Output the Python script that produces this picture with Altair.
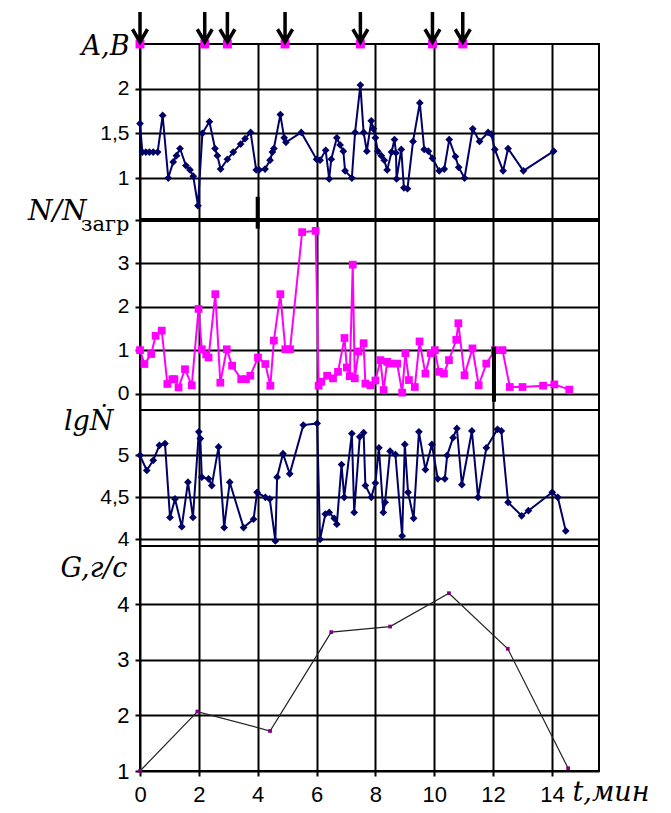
import altair as alt
import pandas as pd

# ---------------- data ----------------
# time axis, minutes
x_ticks = [0, 2, 4, 6, 8, 10, 12, 14]
x_max = 15.6

# panel 1: A,B
ab_t = [0.0, 0.08, 0.2, 0.32, 0.45, 0.6, 0.77, 0.96, 1.13, 1.24, 1.36, 1.56, 1.70, 1.81, 1.97,
        2.12, 2.36, 2.55, 2.63, 2.74, 2.97, 3.17, 3.42, 3.57, 3.76, 3.95, 4.05, 4.25, 4.42, 4.5,
        4.55, 4.77, 4.9, 4.96, 5.48, 6.0, 6.12, 6.31, 6.43, 6.5, 6.69, 6.8, 6.91, 6.97, 7.2, 7.31,
        7.49, 7.6, 7.71, 7.86, 7.93, 8.0, 8.08, 8.2, 8.3, 8.4, 8.55, 8.65, 8.7, 8.72, 8.88, 8.97,
        9.09, 9.28, 9.51, 9.66, 9.8, 9.94, 10.17, 10.34, 10.51, 10.72, 10.83, 11.03, 11.31, 11.54,
        11.83, 11.94, 12.06, 12.34, 12.51, 13.03, 14.06]
ab_v = [1.61, 1.29, 1.29, 1.29, 1.29, 1.29, 1.70, 1.00, 1.18, 1.25, 1.33, 1.14, 1.09, 1.02, 0.69,
        1.50, 1.63, 1.33, 1.25, 1.10, 1.21, 1.29, 1.38, 1.44, 1.51, 1.09, 1.09, 1.10, 1.20, 1.29,
        1.33, 1.71, 1.45, 1.40, 1.51, 1.21, 1.20, 1.31, 0.99, 1.21, 1.45, 1.37, 1.30, 1.08, 1.00, 1.51,
        2.04, 1.51, 1.30, 1.64, 1.55, 1.45, 1.30, 1.25, 1.20, 1.09, 1.29, 1.43, 1.28, 0.99, 1.32, 0.89,
        0.88, 1.41, 1.84, 1.32, 1.30, 1.22, 1.08, 1.10, 1.43, 1.24, 1.12, 1.00, 1.55, 1.41,
        1.51, 1.49, 1.32, 1.08, 1.33, 1.08, 1.30]
ev_t = [0.0, 2.2, 2.97, 4.93, 7.49, 9.94, 10.97]
ev_level = 2.5

# panel 2: N/Nзагр
nn_t = [0.0, 0.15, 0.38, 0.53, 0.74, 0.93, 1.1, 1.17, 1.31, 1.53, 1.76, 1.99, 2.1, 2.25, 2.33,
        2.56, 2.73, 2.95, 3.13, 3.44, 3.6, 3.75, 4.01, 4.26, 4.43, 4.55, 4.77, 4.94, 5.1, 5.51,
        5.97, 6.07, 6.16, 6.36, 6.56, 6.73, 6.95, 7.03, 7.13, 7.23, 7.3, 7.43, 7.6, 7.66, 7.83,
        8.0, 8.17, 8.28, 8.4, 8.51, 8.74, 8.91, 9.02, 9.14, 9.34, 9.5, 9.7, 9.88, 10.02, 10.16,
        10.33, 10.5, 10.75, 10.82, 11.03, 11.3, 11.51, 11.77, 12.06, 12.32, 12.57, 13.0, 13.7,
        14.08, 14.59]
nn_v = [1.0, 0.68, 0.91, 1.33, 1.45, 0.22, 0.33, 0.33, 0.14, 0.56, 0.19, 1.95, 1.02, 0.9, 0.83,
        2.29, 0.25, 1.02, 0.64, 0.33, 0.33, 0.41, 0.83, 0.68, 0.18, 1.22, 2.29, 1.02, 1.02, 3.72,
        3.75, 0.18, 0.27, 0.41, 0.35, 0.5, 1.28, 0.6, 0.4, 2.97, 0.35, 0.97, 1.16, 0.23, 0.19,
        0.3, 0.77, 0.08, 0.73, 0.69, 0.69, 0.02, 0.93, 0.31, 0.15, 1.2, 0.46, 0.93, 1.0, 0.5,
        0.46, 0.77, 1.24, 1.62, 0.42, 1.04, 0.19, 0.69, 1.0, 1.0, 0.15, 0.15, 0.18,
        0.21, 0.09]

# panel 3: lg N
lg_t = [0.0, 0.23, 0.45, 0.66, 0.85, 1.02, 1.19, 1.42, 1.63, 1.80, 2.0, 2.05, 2.1, 2.33, 2.44,
        2.67, 2.86, 3.05, 3.52, 3.86, 3.98, 4.26, 4.41, 4.6, 4.66, 4.86, 5.09, 5.55, 6.02, 6.12,
        6.3, 6.43, 6.6, 6.69, 6.85, 6.94, 7.2, 7.28, 7.47, 7.6, 7.66, 7.86, 8.0, 8.12, 8.27,
        8.33, 8.5, 8.68, 8.91, 9.0, 9.11, 9.3, 9.48, 9.7, 9.92, 10.12, 10.36, 10.44, 10.64,
        10.77, 10.94, 11.28, 11.49, 11.77, 12.15, 12.28, 12.51, 12.97, 13.2, 14.01, 14.2, 14.47]
lg_v = [5.0, 4.82, 4.94, 5.12, 5.14, 4.26, 4.48, 4.15, 4.68, 4.26, 5.28, 5.2, 4.74, 4.72, 4.64,
        5.1, 4.14, 4.68, 4.14, 4.24, 4.56, 4.5, 4.48, 3.98, 4.74, 5.02, 4.78, 5.36, 5.38, 4.0,
        4.3, 4.32, 4.25, 4.18, 4.89, 4.5, 5.26, 4.32, 5.22, 5.27, 4.64, 4.5, 4.67, 5.09, 4.32,
        4.44, 5.05, 5.01, 4.04, 5.13, 4.56, 4.25, 5.28, 4.83, 5.13, 4.72, 4.72, 5.0, 5.21,
        5.32, 4.65, 5.29, 4.5, 5.09, 5.31, 5.29, 4.44, 4.28, 4.34, 4.56, 4.5, 4.1]

# panel 4: G, g/s
g_t = [0.0, 1.95, 4.42, 6.5, 8.5, 10.5, 12.5, 14.55]
g_v = [1.0, 2.07, 1.72, 3.5, 3.6, 4.2, 3.2, 1.05]

# thick black marks seen on the original
p1_mark_t = [4.0]
p1_mark_lo = [0.53]
p1_mark_hi = [0.79]
p2_mark_t = [12.03, 4.0]
p2_mark_lo = [-0.19, 3.8]
p2_mark_hi = [1.08, 4.0]

# ---------------- styling ----------------
NAVY = "#000066"
MAGENTA = "#ff00ff"
W = 459
SERIF = "DejaVu Serif"
SANS = "Liberation Sans"
ARROW = "M0,-1 L0,1 M-0.5,0.15 L0,1 L0.5,0.15"
comma_fmt = "replace(format(datum.value, '~g'), '.', ',')"
is_top = "datum.value == 4"

xs = alt.Scale(domain=[0, x_max], nice=False, zero=False)


def x_hidden(field="t"):
    return alt.X(f"{field}:Q", scale=xs,
                 axis=alt.Axis(values=x_ticks, labels=False, ticks=False, domain=False,
                               title=None, grid=True))


def y_axis(values, title, tx, ty, size=27, **kw):
    return alt.Axis(values=values, title=title, titleAngle=0, titleAlign="right",
                    titleBaseline="alphabetic", titleX=tx, titleY=ty, titleFont=SERIF,
                    titleFontStyle="italic", titleFontWeight="normal", titleFontSize=size,
                    titleColor="black", tickSize=5, labelPadding=6, **kw)


# ---- panel 1
ab_df = pd.DataFrame({"t": ab_t, "v": ab_v})
ev_df = pd.DataFrame({"t": ev_t, "v": [ev_level] * len(ev_t)})
m1_df = pd.DataFrame({"t": p1_mark_t, "lo": p1_mark_lo, "hi": p1_mark_hi})
y1 = alt.Scale(domain=[0.53, 2.5], nice=False, zero=False)
ab_line = alt.Chart(ab_df).mark_line(
    color=NAVY, strokeWidth=2,
    point=alt.OverlayMarkDef(shape="diamond", size=60, filled=True, color=NAVY)
).encode(
    x=x_hidden(),
    y=alt.Y("v:Q", scale=y1,
            axis=y_axis([1, 1.5, 2], "A,B", -11, 10, labelExpr=comma_fmt))
)
ev_sq = alt.Chart(ev_df).mark_square(color=MAGENTA, size=80, opacity=1, clip=False).encode(
    x=alt.X("t:Q", scale=xs), y=alt.Y("v:Q", scale=y1))
ev_arrow = alt.Chart(ev_df).mark_point(
    shape=ARROW, size=900, filled=False, stroke="black", strokeWidth=3.5,
    yOffset=-17, clip=False, opacity=1
).encode(x=alt.X("t:Q", scale=xs), y=alt.Y("v:Q", scale=y1))
m1 = alt.Chart(m1_df).mark_rule(color="black", strokeWidth=4).encode(
    x=alt.X("t:Q", scale=xs), y=alt.Y("lo:Q", scale=y1), y2="hi:Q")
sep = alt.Chart(m1_df).mark_rule(color="black", strokeWidth=4).encode(
    y=alt.datum(0.53, scale=y1))
p1 = alt.layer(ab_line, m1, sep, ev_sq, ev_arrow).properties(width=W, height=176)

# ---- panel 2
nn_df = pd.DataFrame({"t": nn_t, "v": nn_v})
m2_df = pd.DataFrame({"t": p2_mark_t, "lo": p2_mark_lo, "hi": p2_mark_hi})
y2 = alt.Scale(domain=[-0.38, 4.0], nice=False, zero=False)
nn_line = alt.Chart(nn_df).mark_line(
    color=MAGENTA, strokeWidth=2,
    point=alt.OverlayMarkDef(shape="square", size=60, filled=True, color=MAGENTA)
).encode(
    x=x_hidden(),
    y=alt.Y("v:Q", scale=y2,
            axis=y_axis([0, 1, 2, 3, 4], "N/N", -54, -1, size=28,
                        labelExpr="datum.value == 4 ? 'загр' : " + comma_fmt,
                        labelFont={"condition": {"test": is_top, "value": SERIF},
                                   "value": SANS},
                        labelOffset={"condition": {"test": is_top, "value": 4},
                                     "value": 0}))
)
m2 = alt.Chart(m2_df).mark_rule(color="black", strokeWidth=4).encode(
    x=alt.X("t:Q", scale=xs), y=alt.Y("lo:Q", scale=y2), y2="hi:Q")
p2 = alt.layer(nn_line, m2).properties(width=W, height=190)

# ---- panel 3
lg_df = pd.DataFrame({"t": lg_t, "v": lg_v})
y3 = alt.Scale(domain=[3.92, 5.54], nice=False, zero=False)
p3 = alt.Chart(lg_df).mark_line(
    color=NAVY, strokeWidth=2,
    point=alt.OverlayMarkDef(shape="diamond", size=60, filled=True, color=NAVY)
).encode(
    x=x_hidden(),
    y=alt.Y("v:Q", scale=y3,
            axis=y_axis([4, 4.5, 5], "lg\u1E44", -27, 19, labelExpr=comma_fmt))
).properties(width=W, height=136)

# ---- panel 4
g_df = pd.DataFrame({"t": g_t, "v": g_v})
y4 = alt.Scale(domain=[1, 5.05], nice=False, zero=False)
p4 = alt.Chart(g_df).mark_line(
    color="#222222", strokeWidth=1.2,
    point=alt.OverlayMarkDef(shape="square", size=14, filled=True, color="#800080")
).encode(
    x=alt.X("t:Q", scale=xs,
            axis=alt.Axis(values=x_ticks, grid=True, domain=False, tickSize=5,
                          labelFontSize=22, labelPadding=8, labelFlush=False,
                          title="t,мин", titleX=432, titleY=29, titleAlign="left",
                          titleBaseline="alphabetic", titleFont=SERIF, titleFontStyle="italic",
                          titleFontWeight="normal", titleFontSize=27, titleColor="black")),
    y=alt.Y("v:Q", scale=y4,
            axis=y_axis([1, 2, 3, 4], "G,г/с", -13, 30, labelFontSize=22, labelExpr=comma_fmt))
).properties(width=W, height=225)

chart = alt.vconcat(p1, p2, p3, p4, spacing=0, bounds="flush").configure_view(
    stroke="black", strokeWidth=2
).configure_axis(
    gridColor="black", gridWidth=2, gridOpacity=1, tickColor="black", tickWidth=2,
    domain=False, labelColor="black", labelFont=SANS, labelFontSize=21
).properties(
    padding={"left": 18, "top": -4, "right": 5, "bottom": 5}, background="white"
)

chart.save("out.html", embed_options={"renderer": "svg", "actions": False})
